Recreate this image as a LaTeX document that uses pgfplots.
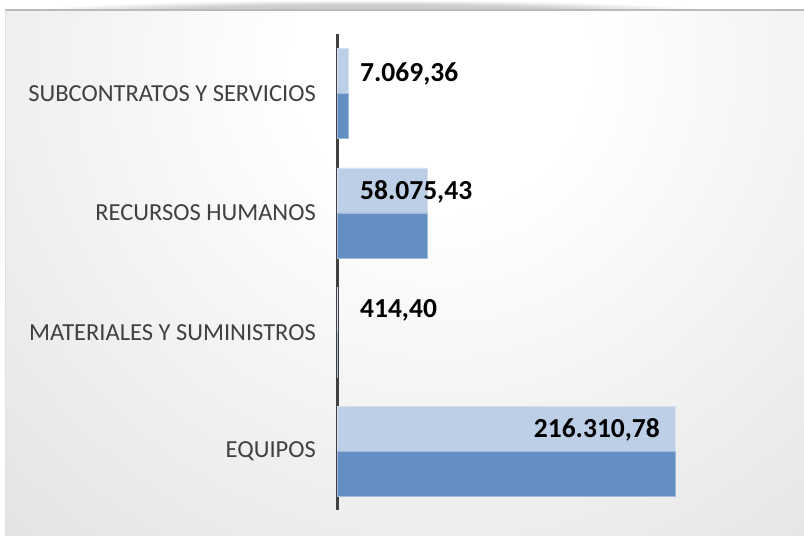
\documentclass[border=0pt]{standalone}
\usepackage{fontspec}
\setmainfont{Carlito}
\usepackage{pgfplots}
\pgfplotsset{compat=1.18}
\definecolor{barlight}{RGB}{189,207,230}
\definecolor{bardark}{RGB}{99,143,195}
\definecolor{lbl}{RGB}{64,64,64}
\definecolor{panelmid}{RGB}{214,214,214}
\definecolor{panelgray}{RGB}{196,196,196}
\definecolor{paneldark}{RGB}{186,186,186}
\definecolor{shadowgray}{RGB}{205,205,205}
% radial gradient of the chart panel (centred shading, placed on a square)
\pgfdeclareradialshading{panelshade}{\pgfpoint{0bp}{0bp}}{color(0bp)=(white); color(6bp)=(white); color(37bp)=(panelmid); color(50bp)=(panelgray); color(70bp)=(paneldark)}
\pgfdeclareradialshading{topshadow}{\pgfpoint{0bp}{0bp}}{color(0bp)=(shadowgray); color(14bp)=(shadowgray); color(25bp)=(white); color(50bp)=(white)}

\begin{document}
\begin{tikzpicture}
% soft shadow above the panel
\shade[shading=topshadow] (40bp,516bp) rectangle (700bp,536bp);
% panel
\begin{scope}
  \clip (5bp,0bp) rectangle (804bp,526bp);
  \shade[shading=panelshade] (-160bp,-127bp) rectangle (1040bp,1073bp);
\end{scope}
\draw[black!27, line width=2bp] (5bp,525.5bp) -- (804bp,525.5bp);
\draw[black!12, line width=1bp] (5.5bp,0bp) -- (5.5bp,526bp);

\begin{axis}[
    at={(337bp,26bp)}, anchor=south west,
    scale only axis, width=453bp, height=476bp,
    xmin=0, xmax=290000,
    ymin=-0.49, ymax=3.5,
    axis x line=none,
    axis y line=left,
    axis line style={-, draw=lbl, line width=3bp},
    ytick={0,1,2,3},
    yticklabels={EQUIPOS, MATERIALES Y SUMINISTROS, RECURSOS HUMANOS, SUBCONTRATOS Y SERVICIOS},
    major tick length=0pt,
    yticklabel style={font=\fontsize{24.5bp}{28bp}\selectfont, text=lbl, inner sep=0pt, xshift=-21bp},
    clip=false,
]
% upper half of each bar
\addplot[xbar, bar width=45bp, bar shift=22.5bp, fill=barlight, draw=white!40!barlight, line width=0.5bp]
    coordinates {(216310.78,0) (414.40,1) (58075.43,2) (7069.36,3)};
% lower half of each bar
\addplot[xbar, bar width=45bp, bar shift=-22.5bp, fill=bardark, draw=white!40!bardark, line width=0.5bp]
    coordinates {(216310.78,0) (414.40,1) (58075.43,2) (7069.36,3)};
% value labels
\addplot[draw=none, point meta=explicit symbolic, nodes near coords,
    every node near coord/.append style={anchor=base west, inner sep=0pt, font=\fontsize{27.5bp}{30bp}\selectfont\bfseries, text=black}]
    coordinates {(14700,1.12) [414,40] (14700,2.11) [58.075,43] (14700,3.10) [7.069,36]};
\addplot[draw=none, point meta=explicit symbolic, nodes near coords,
    every node near coord/.append style={anchor=base east, inner sep=0pt, font=\fontsize{27.5bp}{30bp}\selectfont\bfseries, text=black}]
    coordinates {(206800,0.117) [216.310,78]};
\end{axis}
\pgfresetboundingbox
\useasboundingbox (0bp,0bp) rectangle (804bp,536bp);
\end{tikzpicture}
\end{document}
